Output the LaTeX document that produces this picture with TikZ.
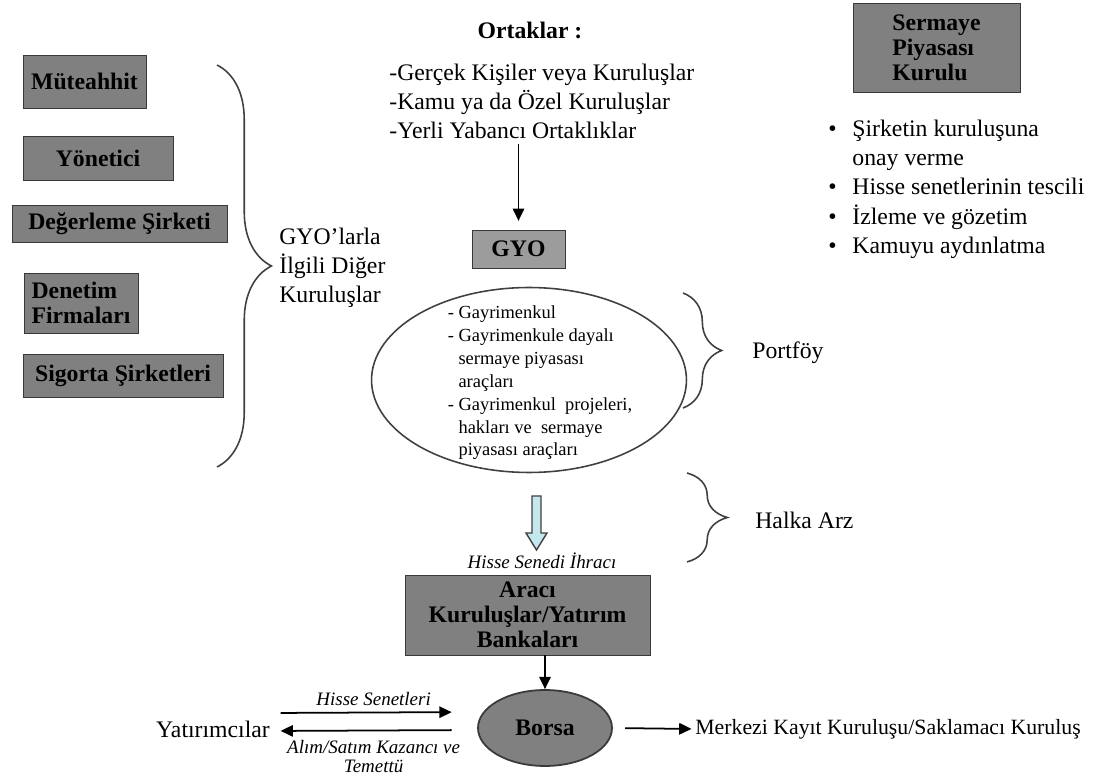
\documentclass[tikz,border=0pt]{standalone}
\usepackage{fontspec}
\setmainfont{Liberation Serif}
\usetikzlibrary{shapes.geometric,decorations.pathreplacing,arrows.meta}
\definecolor{acikmavi}{RGB}{196,232,238}

\begin{document}
\begin{tikzpicture}[x=0.02cm,y=-0.02cm,
    kutu/.style={draw=gray!45!black,fill=gray,inner sep=0pt,align=center,
      font=\fontsize{13.5}{14.3}\selectfont\bfseries},
    yazi/.style={inner sep=0pt,font=\fontsize{13.5}{16.5}\selectfont},
    italik/.style={font=\fontsize{10.8}{10.5}\selectfont\itshape},
    parantez/.style={decorate,decoration={brace,amplitude=#1},line width=0.9pt,draw=black!75},
    ok/.style={-{Triangle[length=7pt,width=6.5pt]},line width=1pt}]
  \useasboundingbox (0,0) rectangle (1100,780);

  \node[kutu,minimum width=2.46cm,minimum height=1.06cm] (muteahhit) at (84.5,81.5) {Müteahhit};
  \node[kutu,minimum width=3.0cm,minimum height=0.88cm] (yonetici) at (98,158) {Yönetici};
  \node[kutu,minimum width=4.3cm,minimum height=0.74cm] (degerleme) at (119.5,223.5) {Değerleme Şirketi};
  \node[kutu,align=left,minimum width=2.28cm,minimum height=1.2cm] (denetim) at (81,303) {Denetim\\Firmaları};
  \node[kutu,minimum width=4.0cm,minimum height=0.86cm] (sigorta) at (123,375.5) {Sigorta Şirketleri};

  \draw[parantez=31pt] (217,65) -- (217,467);
  \node[yazi,anchor=west,align=left] (diger) at (279,268) {GYO’larla\\İlgili Diğer\\Kuruluşlar};

  \node[yazi,font=\fontsize{13.5}{16.5}\selectfont\bfseries] (ortakbaslik) at (530,30) {Ortaklar :};
  \node[yazi,anchor=west,align=left] (ortaklar) at (389,101)
    {-Gerçek Kişiler veya Kuruluşlar\\-Kamu ya da Özel Kuruluşlar\\-Yerli Yabancı Ortaklıklar};

  \node[kutu,fill=gray!78,minimum width=1.86cm,minimum height=0.76cm] (gyo) at (518.5,249) {GYO};
  \draw[ok,shorten <=3pt,shorten >=5pt] (ortaklar.south -| gyo.north) -- (gyo.north);

  \node[kutu,align=left,minimum width=3.34cm,minimum height=1.78cm] (spk) at (936.5,47.5)
    {Sermaye\\Piyasası\\Kurulu};
  \node[yazi,anchor=west] (gorevler) at (828,189) {\fontsize{13.5}{16.7}\selectfont
    \begin{tabular}{@{}l@{\hspace{9pt}}l@{}}
      \textbullet & Şirketin kuruluşuna\\
                  & onay verme\\
      \textbullet & Hisse senetlerinin tescili\\
      \textbullet & İzleme ve gözetim\\
      \textbullet & Kamuyu aydınlatma
    \end{tabular}};

  \node[ellipse,draw=black!75,line width=0.9pt,minimum width=6.3cm,minimum height=3.7cm] (portfoy) at (529,380) {};
  \node[align=left,inner sep=0pt,font=\fontsize{10.5}{13}\selectfont] (portfoymetin) at (540,383)
    {- Gayrimenkul\\- Gayrimenkule dayalı\\\hphantom{- }sermaye piyasası\\\hphantom{- }araçları\\
     - Gayrimenkul\ \ projeleri,\\\hphantom{- }hakları ve\ \ sermaye\\\hphantom{- }piyasası araçları};
  \draw[parantez=22pt] (683,293) -- (683,408);
  \node[yazi,anchor=west] (portfoyyazi) at (752,353) {Portföy};

  \draw[fill=acikmavi,draw=gray!50!black,line width=0.8pt] (532,496) -- (541,496) -- (541,533) -- (547,533)
    -- (536.5,550) -- (526,533) -- (532,533) -- cycle;
  \node[italik] (ihrac) at (542,561) {Hisse Senedi İhracı};
  \draw[parantez=23pt] (687,473) -- (687,562);
  \node[yazi,anchor=west] (halkaarz) at (755,520) {Halka Arz};

  \node[kutu,minimum width=4.9cm,minimum height=1.6cm] (araci) at (527.5,615)
    {Aracı\\Kuruluşlar/Yatırım\\Bankaları};
  \node[ellipse,draw=gray!45!black,line width=1pt,fill=gray,minimum width=2.68cm,minimum height=1.52cm,
    font=\fontsize{13.5}{16}\selectfont\bfseries] (borsa) at (545,728) {Borsa};
  \draw[ok] (araci.south -| borsa.north) -- (borsa.north);

  \node[yazi,anchor=west,font=\fontsize{12.4}{15}\selectfont] (merkezi) at (695,729)
    {Merkezi Kayıt Kuruluşu/Saklamacı Kuruluş};
  \draw[ok,shorten <=7pt,shorten >=2pt] (borsa.east) -- (merkezi.west);

  \node[yazi] (yatirimci) at (213,729) {Yatırımcılar};
  \draw[ok,shorten <=6pt,shorten >=14.5pt] ([yshift=0.32cm]yatirimci.east) -- ([yshift=0.32cm]borsa.west)
    node[midway,above,italik] {Hisse Senetleri};
  \draw[ok,shorten <=14.5pt,shorten >=6pt] ([yshift=-0.04cm]borsa.west) -- ([yshift=-0.04cm]yatirimci.east)
    node[midway,below=2pt,italik,align=center] {Alım/Satım Kazancı ve\\Temettü};
\end{tikzpicture}
\end{document}
